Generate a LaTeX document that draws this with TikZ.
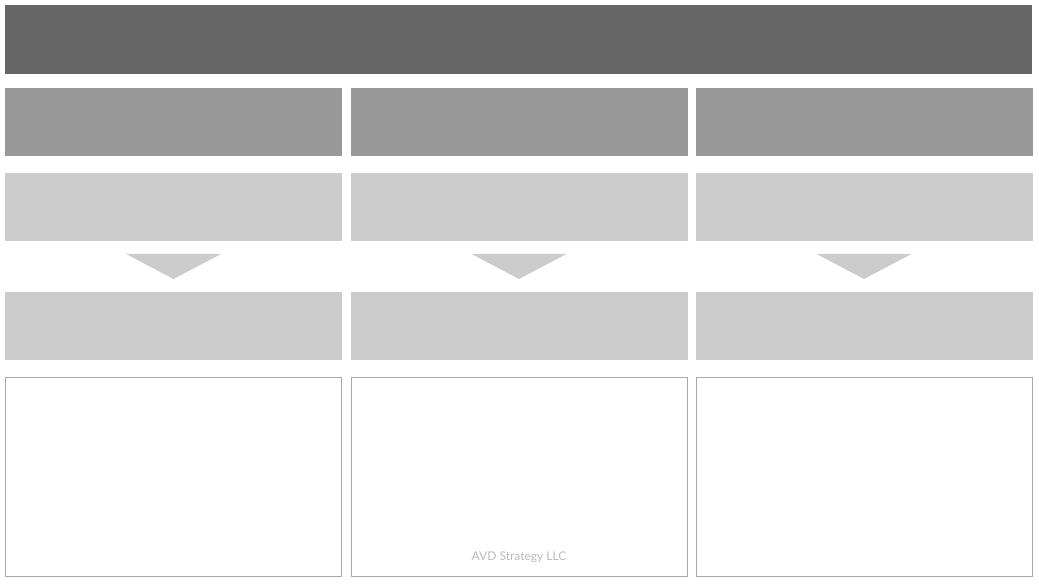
\documentclass[tikz,border=0pt]{standalone}
\usepackage{fontspec}
\setmainfont{Lato}
\definecolor{darkbar}{HTML}{666666}
\definecolor{midbar}{HTML}{999999}
\definecolor{lightbar}{HTML}{CCCCCC}
\definecolor{frameline}{HTML}{AAAAAA}
\definecolor{markgray}{HTML}{BBBBBB}
\tikzset{
  box/.style={minimum width=337pt, minimum height=68pt, inner sep=0pt, outer sep=0pt},
  headbox/.style={box, fill=midbar},
  stepbox/.style={box, fill=lightbar},
  notebox/.style={box, minimum width=336pt, minimum height=199pt, draw=frameline, line width=1pt, fill=white}
}
\begin{document}
\begin{tikzpicture}[x=1pt, y=-1pt]
                \useasboundingbox (0,0) rectangle (1039,585);
                \node[box, minimum width=1027pt, minimum height=69pt, fill=darkbar](TOP) at (518.5,39.5) {};
                \node[headbox](HA) at (173.5,122) {};
                \node[headbox](HB) at (519,122) {};
                \node[headbox](HC) at (864,122) {};
                \node[stepbox](SA) at (173.5,207) {};
                \node[stepbox](SB) at (519,207) {};
                \node[stepbox](SC) at (864,207) {};
                \node[stepbox](RA) at (173.5,326) {};
                \node[stepbox](RB) at (519,326) {};
                \node[stepbox](RC) at (864,326) {};
                \node[notebox](NA) at (173.5,477) {};
                \node[notebox](NB) at (519,477) {};
                \node[notebox](NC) at (864,477) {};
                % down markers between the step rows
                \fill[lightbar] (126,254) -- (221,254) -- (173.5,279) -- cycle;
                \fill[lightbar] (471.5,254) -- (566.5,254) -- (519,279) -- cycle;
                \fill[lightbar] (816.5,254) -- (911.5,254) -- (864,279) -- cycle;
                \node[text=markgray, font=\fontsize{12}{14}\selectfont](MARK) at (519,557.5) {AVD Strategy LLC};
            \end{tikzpicture}
\end{document}
